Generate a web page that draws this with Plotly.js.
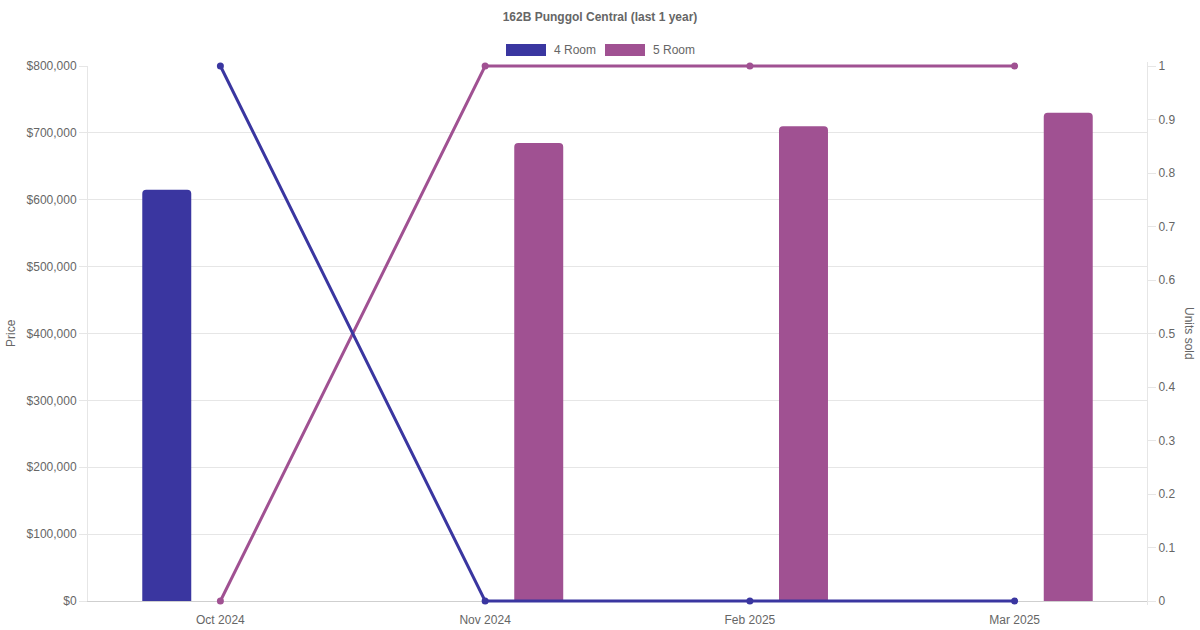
<!DOCTYPE html>
<html>
<head>
<meta charset="utf-8">
<script src="https://cdn.plot.ly/plotly-3.0.1.min.js"></script>
<style>
  html, body { margin: 0; padding: 0; background: #fff; }
  #chart { width: 1200px; height: 630px; }
</style>
</head>
<body>
<div id="chart"></div>
<script>
const months = ['Oct 2024', 'Nov 2024', 'Feb 2025', 'Mar 2025']
const seriesNames = ['4 Room', '5 Room']
const price4 = [615000, null, null, null]
const price5 = [null, 685000, 710000, 730000]
const units4 = [1, 0, 0, 0]
const units5 = [0, 1, 1, 1]

const colors = ['#3a36a0', '#a05192']
const font = 'Liberation Sans, Arial, Helvetica, sans-serif'
const grey = '#666'

// visible plot box in pixels; the paper area is a few px bigger so the
// unit lines sitting on 0 and 1 are not cut in half by the clip
const box = { l: 88, r: 1147, t: 66, b: 601 }
const pad = 4
const areaTop = box.t - pad
const areaBottom = box.b + pad
const px = x => (x - box.l) / (box.r - box.l)
const py = y => (areaBottom - y) / (areaBottom - areaTop)
const inner = [pad / (areaBottom - areaTop), 1 - pad / (areaBottom - areaTop)]
const unitPad = pad / (box.b - box.t)

const bar = (y, i, offset) => ({
  type: 'bar',
  x: months,
  y,
  name: seriesNames[i],
  offset,
  width: 0.185,
  marker: { color: colors[i], cornerradius: 4 },
  showlegend: false,
})

const line = (y, i) => ({
  type: 'scatter',
  mode: 'lines+markers',
  x: months,
  y,
  yaxis: 'y2',
  name: seriesNames[i],
  line: { color: colors[i], width: 3 },
  marker: { color: colors[i], size: 7 },
  cliponaxis: false,
  showlegend: false,
})

const data = [
  bar(price4, 0, -0.295),
  bar(price5, 1, 0.11),
  line(units5, 1),
  line(units4, 0),
]

const legendShapes = [[506, 546], [605, 645]].map(([a, b], i) => ({
  type: 'rect', xref: 'paper', yref: 'paper',
  x0: px(a), x1: px(b), y0: py(56), y1: py(44),
  fillcolor: colors[i], line: { width: 0 },
}))

const legendText = [552, 651].map((x, i) => ({
  xref: 'paper', yref: 'paper', x: px(x), y: py(50),
  xanchor: 'left', yanchor: 'middle', showarrow: false,
  text: seriesNames[i], font: { family: font, size: 12, color: grey },
}))

const tickfont = { family: font, size: 12, color: grey }

const layout = {
  width: 1200,
  height: 630,
  paper_bgcolor: '#fff',
  // transparent so the line subplot does not paint over the bar subplot
  plot_bgcolor: 'rgba(0,0,0,0)',
  margin: { l: box.l, r: 1200 - box.r, t: areaTop, b: 630 - areaBottom },
  font: { family: font, size: 12, color: grey },
  title: {
    text: '<b>162B Punggol Central (last 1 year)</b>',
    x: 0.5, xanchor: 'center', y: 1 - 17 / 630, yanchor: 'middle',
    font: { family: font, size: 12, color: grey },
  },
  barmode: 'overlay',
  showlegend: false,
  xaxis: {
    type: 'category',
    range: [-0.5, 3.5],
    showgrid: false,
    zeroline: false,
    showline: true,
    linecolor: '#cfcfcf',
    ticks: '',
    ticklabelstandoff: 8,
    tickfont,
    layer: 'below traces',
  },
  yaxis: {
    domain: inner,
    range: [0, 800000],
    dtick: 100000,
    tickprefix: '$',
    tickformat: ',d',
    showgrid: true,
    gridcolor: '#e6e6e6',
    zeroline: false,
    showline: true,
    linecolor: '#e6e6e6',
    ticks: 'outside',
    ticklen: 8,
    tickcolor: '#e6e6e6',
    tickfont,
    layer: 'below traces',
  },
  // units axis spans the padded area, its range padded by the same pixels,
  // so 0 and 1 land on the bottom and top of the price grid
  yaxis2: {
    domain: [0, 1],
    anchor: 'x',
    side: 'right',
    range: [-unitPad, 1 + unitPad],
    tick0: 0,
    dtick: 0.1,
    showgrid: false,
    zeroline: false,
    showline: true,
    linecolor: '#e6e6e6',
    ticks: 'outside',
    ticklen: 8,
    tickcolor: '#e6e6e6',
    tickfont,
    layer: 'below traces',
  },
  shapes: legendShapes,
  annotations: [
    ...legendText,
    {
      xref: 'paper', yref: 'paper', x: px(11), y: py(333),
      xanchor: 'center', yanchor: 'middle', showarrow: false, textangle: -90,
      text: 'Price', font: { family: font, size: 12, color: grey },
    },
    {
      xref: 'paper', yref: 'paper', x: px(1189), y: py(333),
      xanchor: 'center', yanchor: 'middle', showarrow: false, textangle: 90,
      text: 'Units sold', font: { family: font, size: 12, color: grey },
    },
  ],
}

Plotly.newPlot('chart', data, layout, { displayModeBar: false, staticPlot: true })
</script>
</body>
</html>
